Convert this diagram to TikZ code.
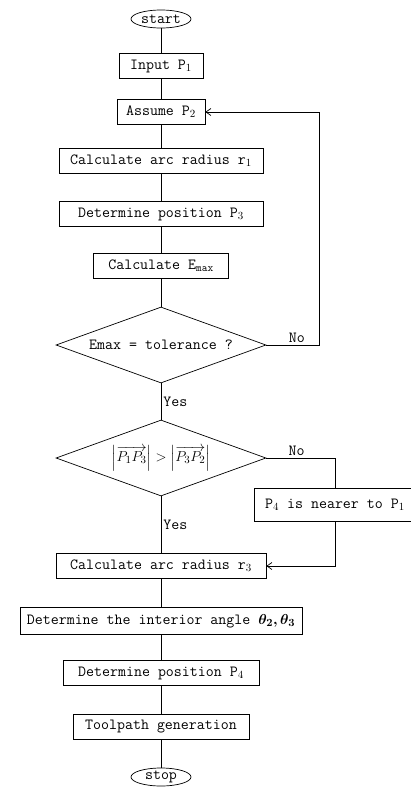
\documentclass[tikz,border=0pt]{standalone}
\usepackage{amsmath}
\usepackage{bm}
\usepackage{tikz}
\usetikzlibrary{shapes.geometric, arrows.meta}

\begin{document}
\begin{tikzpicture}[
  x=1pt, y=-1pt,
  font=\fontsize{15.5}{18}\selectfont\ttfamily,
  line width=0.7pt,
  >={Straight Barb[length=5pt,width=7pt]},
  term/.style={draw, ellipse, inner sep=0pt, minimum width=60pt, minimum height=18pt},
  stepbox/.style={draw, rectangle, inner xsep=4pt, inner ysep=0pt, minimum height=25pt},
  test/.style={draw, diamond, aspect=2.8, inner sep=0pt, minimum width=210pt, minimum height=76pt},
  lab/.style={inner sep=2pt},
]
  \useasboundingbox (0,0) rectangle (410,787);
  \node[term] (start) at (161,19) {start};
  \node[stepbox, minimum width=84pt] (input) at (161,66) {Input P$_1$};
  \node[stepbox, minimum width=88pt] (assume) at (161,112) {Assume P$_2$};
  \node[stepbox, minimum width=204pt] (radA) at (161,161) {Calculate arc radius r$_1$};
  \node[stepbox, minimum width=204pt] (posA) at (161,214) {Determine position P$_3$};
  \node[stepbox, minimum width=135pt] (emax) at (161,266) {Calculate E$_{\text{max}}$};
  \node[test] (tol) at (161,345) {Emax = tolerance ?};
  \node[test] (cmp) at (161,458) {$\left|\overrightarrow{P_1P_3}\right| > \left|\overrightarrow{P_3P_2}\right|$};
  \node[stepbox, minimum width=162pt, minimum height=33pt] (near) at (335,505) {P$_4$ is nearer to P$_1$};
  \node[stepbox, minimum width=210pt] (radB) at (161,566) {Calculate arc radius r$_3$};
  \node[stepbox, minimum width=282pt, minimum height=27pt] (angle) at (161,621) {Determine the interior angle $\boldsymbol{\theta_2,\theta_3}$};
  \node[stepbox, minimum width=196pt] (posB) at (161,673) {Determine position P$_4$};
  \node[stepbox, minimum width=176pt] (path) at (161,727) {Toolpath generation};
  \node[term] (stop) at (161,777) {stop};
  \coordinate (loop) at (319,0);

  \foreach \a/\b in {start/input, input/assume, assume/radA, radA/posA, posA/emax,
                     emax/tol, radB/angle, angle/posB, posB/path, path/stop}
    \draw (\a) -- (\b);
  \draw (tol) -- node[lab, right] {Yes} (cmp);
  \draw (cmp) -- node[lab, right] {Yes} (radB);
  \draw[->] (tol.east) -- node[lab, above, pos=0.58] {No} (tol.east -| loop) |- (assume.east);
  \draw (cmp.east) -- node[lab, above, pos=0.44] {No} (cmp.east -| near) -- (near.north);
  \draw[->] (near.south) |- (radB.east);
\end{tikzpicture}
\end{document}
